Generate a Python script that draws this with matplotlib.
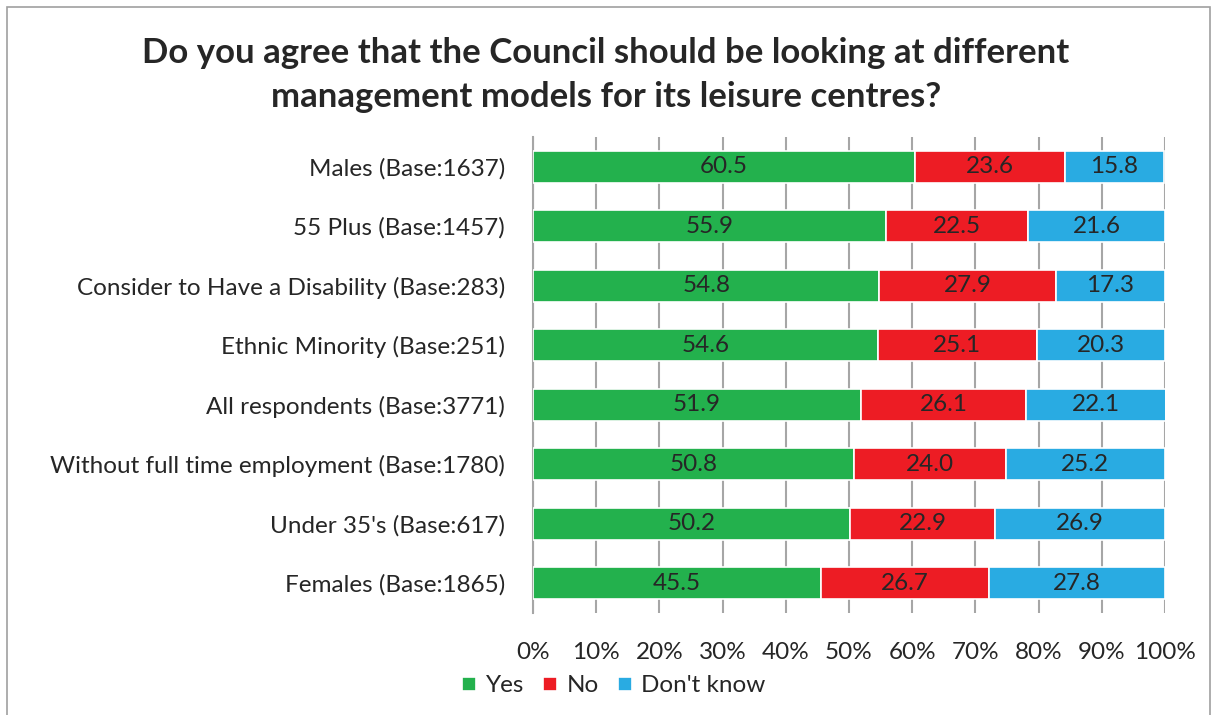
import matplotlib.pyplot as plt
from matplotlib.patches import Rectangle
from matplotlib.ticker import PercentFormatter
import numpy as np

plt.rcParams['font.family'] = ['Lato', 'DejaVu Sans']

categories = [
    "Males (Base:1637)",
    "55 Plus (Base:1457)",
    "Consider to Have a Disability (Base:283)",
    "Ethnic Minority (Base:251)",
    "All respondents (Base:3771)",
    "Without full time employment (Base:1780)",
    "Under 35's (Base:617)",
    "Females (Base:1865)",
]
yes = [60.5, 55.9, 54.8, 54.6, 51.9, 50.8, 50.2, 45.5]
no = [23.6, 22.5, 27.9, 25.1, 26.1, 24.0, 22.9, 26.7]
dont_know = [15.8, 21.6, 17.3, 20.3, 22.1, 25.2, 26.9, 27.8]

series = [("Yes", yes, '#23B14D'), ("No", no, '#ED1C24'), ("Don't know", dont_know, '#29ABE2')]

fig = plt.figure(figsize=(12.12, 7.15), dpi=100)
ax = fig.add_axes([533 / 1212, 1 - 613 / 715, (1165 - 533) / 1212, (613 - 137) / 715])

y = np.arange(len(categories))[::-1]
left = np.zeros(len(categories))
for name, vals, col in series:
    vals = np.array(vals)
    ax.barh(y, vals, left=left, height=0.54, color=col, edgecolor='white',
            linewidth=1.2, label=name, zorder=3)
    for yi, l, v in zip(y, left, vals):
        ax.text(l + v / 2, yi, f"{v:.1f}", ha='center', va='center',
                fontsize=17.5, color='#262626', zorder=4)
    left += vals

ax.set_xlim(0, 100)
ax.set_ylim(-0.5, len(categories) - 0.5)
ax.set_xticks(np.arange(0, 101, 10))
ax.xaxis.set_major_formatter(PercentFormatter(decimals=0))
ax.set_yticks(y)
ax.set_yticklabels(categories)
ax.tick_params(axis='both', length=0, labelsize=17.5, labelcolor='#262626')
ax.tick_params(axis='x', pad=21)
ax.tick_params(axis='y', pad=20)
ax.grid(axis='x', color='#A6A6A6', linewidth=1.5, zorder=0)
for s in ['top', 'right', 'bottom']:
    ax.spines[s].set_visible(False)
ax.spines['left'].set_color('#A6A6A6')
ax.spines['left'].set_linewidth(1.5)

fig.text(0.5, 1 - 75 / 715,
         "Do you agree that the Council should be looking at different\nmanagement models for its leisure centres?",
         ha='center', va='center', fontsize=25, fontweight='bold', color='#262626', linespacing=1.45)

fig.legend(loc='center', bbox_to_anchor=(614 / 1212, 1 - 686 / 715), ncol=3, frameon=False,
           fontsize=17.5, handlelength=0.55, handleheight=0.55, handletextpad=0.4,
           columnspacing=0.8, labelcolor='#262626')

fig.patches.append(Rectangle((7 / 1212, -0.1), 1203 / 1212, 1.1 - 7 / 715, transform=fig.transFigure,
                             fill=False, edgecolor='#A0A0A0', linewidth=1.2))

fig.savefig('out.png', dpi=100)
